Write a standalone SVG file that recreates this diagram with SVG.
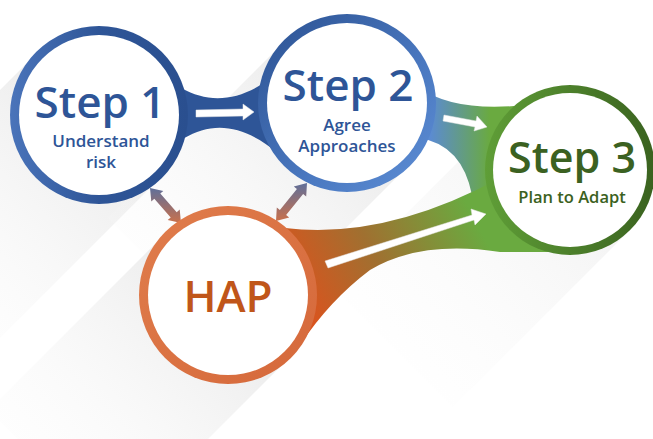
<svg xmlns="http://www.w3.org/2000/svg" width="653" height="439" viewBox="0 0 653 439">
<defs>
<linearGradient id="shadow" x1="1" y1="0" x2="0" y2="1">
<stop offset="0" stop-color="#dcdcdc" stop-opacity="0.9"/>
<stop offset="1" stop-color="#ffffff" stop-opacity="0"/>
</linearGradient>
<linearGradient id="ring1" x1="0" y1="0.5" x2="1" y2="0.5">
<stop offset="0" stop-color="#4a74ba"/>
<stop offset="0.5" stop-color="#2e5597"/>
<stop offset="1" stop-color="#2a4f8f"/>
</linearGradient>
<linearGradient id="ring2" x1="0" y1="0" x2="1" y2="1">
<stop offset="0" stop-color="#2b5191"/>
<stop offset="0.6" stop-color="#4a78c0"/>
<stop offset="1" stop-color="#5e8fd6"/>
</linearGradient>
<linearGradient id="ring3" x1="0" y1="0.5" x2="1" y2="0.5">
<stop offset="0" stop-color="#5f9e37"/>
<stop offset="1" stop-color="#3a621f"/>
</linearGradient>
<linearGradient id="ringH" x1="0" y1="0" x2="1" y2="1">
<stop offset="0" stop-color="#e07d4c"/>
<stop offset="1" stop-color="#d5683a"/>
</linearGradient>
<linearGradient id="br23" gradientUnits="userSpaceOnUse" x1="430" y1="0" x2="490" y2="0">
<stop offset="0" stop-color="#5b8bd2"/>
<stop offset="1" stop-color="#6aaa40"/>
</linearGradient>
<linearGradient id="brH3" gradientUnits="userSpaceOnUse" x1="300" y1="300" x2="470" y2="210">
<stop offset="0" stop-color="#d9541e"/>
<stop offset="0.45" stop-color="#a07030"/>
<stop offset="1" stop-color="#6aaa40"/>
</linearGradient>
<linearGradient id="dbl" x1="0" y1="0" x2="0" y2="1">
<stop offset="0" stop-color="#5f6f9a"/>
<stop offset="1" stop-color="#c9714c"/>
</linearGradient>
<style>
.inner{fill:#ffffff}
.head{font-family:"Open Sans","Noto Sans",sans-serif;font-weight:600;text-anchor:middle}
.sub{font-family:"Open Sans","Noto Sans",sans-serif;font-weight:600;text-anchor:middle}
.arr{fill:#ffffff;stroke:#e6e6e6;stroke-width:0.5}
</style>
</defs>

<g id="shadows">
<polygon points="161,177 37,53 -140,230 -16,354" fill="url(#shadow)"/>
<polygon points="409,165 285,41 108,218 232,342" fill="url(#shadow)"/>
<polygon points="290,357 166,233 -11,410 113,534" fill="url(#shadow)"/>
<polygon points="630,230 510,110 333,287 453,407" fill="url(#shadow)" opacity="0.6"/>
</g>

<g id="connectors">
<path d="M150,60 C190,110 245,115 300,50 L300,175 C245,113 195,113 150,170 Z" fill="#2e5597"/>
<path d="M420,88 Q462,118 560,100 L560,250 Q480,245 472,195 Q462,145 420,138 Z" fill="url(#br23)"/>
<path d="M285,228 Q385,240 500,178 L560,178 L560,252 L500,252 Q420,240 370,270 Q330,300 300,345 Z" fill="url(#brH3)"/>
<polygon class="arr" points="196,110 243,109 243,104 254,112 243,120 243,116 196,117"/>
<polygon class="arr" points="444,115 476,121 477,116 487,127 474,131 475,127 443,121"/>
<polygon class="arr" points="325,261 472,215 471,209 486,214 475,225 474,220 328,268"/>
<polygon points="150,188 151.3,201.5 154.3,198.8 170.7,217.4 167.7,220.1 181,223 179.7,209.5 176.7,212.2 160.3,193.6 163.3,190.9" fill="url(#dbl)"/>
<polygon points="307,183 293.8,186.4 296.9,189 279.9,210 276.8,207.4 276,221 289.2,217.6 286.1,215 303.1,194 306.2,196.6" fill="url(#dbl)"/>
</g>

<g id="step1">
<circle cx="99" cy="115" r="89" fill="url(#ring1)"/>
<circle class="inner" cx="99" cy="115" r="80"/>
<text class="head" x="100" y="118" font-size="44" fill="#2e5597">Step 1</text>
<text class="sub" x="101" y="147" font-size="17" fill="#2e5597">Understand</text>
<text class="sub" x="101" y="168" font-size="17" fill="#2e5597">risk</text>
</g>

<g id="step2">
<circle cx="347" cy="103" r="89" fill="url(#ring2)"/>
<circle class="inner" cx="347" cy="103" r="80"/>
<text class="head" x="348" y="101" font-size="44" fill="#2e5597">Step 2</text>
<text class="sub" x="347" y="131" font-size="17" fill="#2e5597">Agree</text>
<text class="sub" x="347" y="152" font-size="17" fill="#2e5597">Approaches</text>
</g>

<g id="step3">
<circle cx="570" cy="170" r="85" fill="url(#ring3)"/>
<circle class="inner" cx="570" cy="170" r="77"/>
<text class="head" x="572" y="173" font-size="43" fill="#3b6121">Step 3</text>
<text class="sub" x="572" y="203" font-size="16.5" fill="#3b6121">Plan to Adapt</text>
</g>

<g id="hap">
<circle cx="228" cy="295" r="89" fill="url(#ringH)"/>
<circle class="inner" cx="228" cy="295" r="80"/>
<text x="228" y="312" font-family="Open Sans, Noto Sans, sans-serif" font-size="44" font-weight="600" text-anchor="middle" fill="#c0561a">HAP</text>
</g>
</svg>
